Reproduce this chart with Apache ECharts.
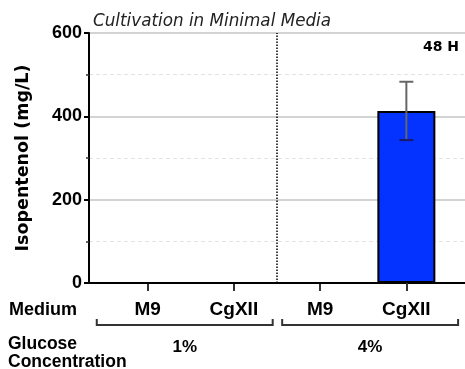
<!DOCTYPE html>
<html><head><meta charset="utf-8">
<script src="https://cdn.jsdelivr.net/npm/echarts@6/dist/echarts.min.js"></script>
<style>html,body{margin:0;padding:0;background:#fff}#c{width:465px;height:369px}</style>
</head><body><div id="c"></div>
<script>
// Medium per bar, glucose level per pair of bars
const media = ['M9', 'CgXII', 'M9', 'CgXII'];
const glucose = ['1%', '4%'];
// Isopentenol titre after 48 h (mg/L) and its standard deviation
const isopentenol = [0, 0, 0, 413];
const errSD = [0, 0, 0, 70];
const yTicks = [0, 200, 400, 600];

const FONT = "'Liberation Sans', Arial, Helvetica, sans-serif";
const WIDE = "'DejaVu Sans', 'Liberation Sans', sans-serif";
const positions = media.map((_, i) => i);

const chart = echarts.init(document.getElementById('c'), null, { renderer: 'canvas' });

const option = {
  backgroundColor: '#fff',
  animation: false,
  grid: { left: 89, top: 33, width: 378, height: 250, containLabel: false },
  xAxis: {
    type: 'value', min: -0.68, max: 3.68,
    axisLine: { show: true, onZero: false, lineStyle: { color: '#000', width: 2 } },
    axisTick: { show: true, customValues: positions, length: 8, lineStyle: { color: '#333', width: 2 } },
    axisLabel: {
      show: true, customValues: positions, margin: 17,
      formatter: v => media[Math.round(v)],
      color: '#000', fontFamily: FONT, fontWeight: 'bold', fontSize: 19
    },
    splitLine: { show: false }
  },
  yAxis: {
    type: 'value', min: yTicks[0], max: yTicks[yTicks.length - 1], interval: yTicks[1] - yTicks[0],
    axisLine: { show: true, onZero: false, lineStyle: { color: '#000', width: 2 } },
    axisTick: { show: true, length: 5, lineStyle: { color: '#000', width: 2 } },
    minorTick: { show: true, splitNumber: 2, length: 3, lineStyle: { color: '#333', width: 1.5 } },
    axisLabel: { color: '#000', fontFamily: FONT, fontWeight: 'bold', fontSize: 18, margin: 7 },
    splitLine: { show: true, lineStyle: { color: '#c4c4c4', width: 1.5 } },
    minorSplitLine: { show: true, lineStyle: { color: '#e2e2e2', width: 1, type: [4, 3] } },
    name: 'Isopentenol (mg/L)', nameLocation: 'middle', nameGap: 57,
    nameTextStyle: { color: '#000', fontFamily: WIDE, fontWeight: 'bold', fontSize: 17.5 }
  },
  series: [
    {
      type: 'bar',
      data: positions.map((x, i) => [x, isopentenol[i]]),
      barWidth: 58,
      itemStyle: { color: '#0433ff', borderColor: '#000', borderWidth: 2 },
      z: 3,
      markLine: {
        silent: true, symbol: 'none', label: { show: false },
        lineStyle: { color: '#000', type: 'dotted', width: 1.5 },
        data: [{ xAxis: 1.5 }]
      }
    },
    {
      type: 'custom',
      z: 4,
      data: positions.map((x, i) => [x, isopentenol[i] - errSD[i], isopentenol[i] + errSD[i]]).filter((d, i) => errSD[i] > 0),
      renderItem: (params, api) => {
        const x = api.value(0);
        const lo = api.coord([x, api.value(1)]);
        const hi = api.coord([x, api.value(2)]);
        const cap = 7;
        const style = { stroke: '#666', lineWidth: 2 };
        return {
          type: 'group',
          children: [
            { type: 'line', shape: { x1: hi[0], y1: hi[1], x2: lo[0], y2: lo[1] }, style },
            { type: 'line', shape: { x1: hi[0] - cap, y1: hi[1], x2: hi[0] + cap, y2: hi[1] }, style },
            { type: 'line', shape: { x1: lo[0] - cap, y1: lo[1], x2: lo[0] + cap, y2: lo[1] }, style: { stroke: '#1a1a66', lineWidth: 2 } }
          ]
        };
      }
    }
  ]
};
chart.setOption(option);

// Annotations: title, time point, row captions and glucose brackets
const px = v => chart.convertToPixel({ xAxisIndex: 0 }, v);
const bracketY = 325, bracketRise = 6;
const groups = [
  { label: glucose[0], from: -0.59, to: 1.45 },
  { label: glucose[1], from: 1.56, to: 3.6 }
];
const graphics = [
  { type: 'text', x: 93, y: 22, style: { text: 'Cultivation in Minimal Media', fill: '#222', font: 'oblique 16.8px ' + WIDE, textVerticalAlign: 'middle' } },
  { type: 'text', x: 459, y: 47, style: { text: '48 H', fill: '#000', font: 'bold 14px ' + WIDE, textAlign: 'right', textVerticalAlign: 'middle' } },
  { type: 'text', x: 9, y: 310, style: { text: 'Medium', fill: '#000', font: 'bold 18px ' + FONT, textVerticalAlign: 'middle' } },
  { type: 'text', x: 8, y: 344, style: { text: 'Glucose', fill: '#000', font: 'bold 17.5px ' + FONT, textVerticalAlign: 'middle' } },
  { type: 'text', x: 8, y: 362, style: { text: 'Concentration', fill: '#000', font: 'bold 17.5px ' + FONT, textVerticalAlign: 'middle' } }
];
groups.forEach(g => {
  const a = px(g.from), b = px(g.to);
  graphics.push({
    type: 'polyline',
    shape: { points: [[a, bracketY - bracketRise], [a, bracketY], [b, bracketY], [b, bracketY - bracketRise]] },
    style: { stroke: '#333', lineWidth: 2, fill: null }
  });
  graphics.push({
    type: 'text', x: (a + b) / 2, y: 347,
    style: { text: g.label, fill: '#000', font: 'bold 17px ' + FONT, textAlign: 'center', textVerticalAlign: 'middle' }
  });
});
chart.setOption({ graphic: graphics });
</script>
</body></html>
